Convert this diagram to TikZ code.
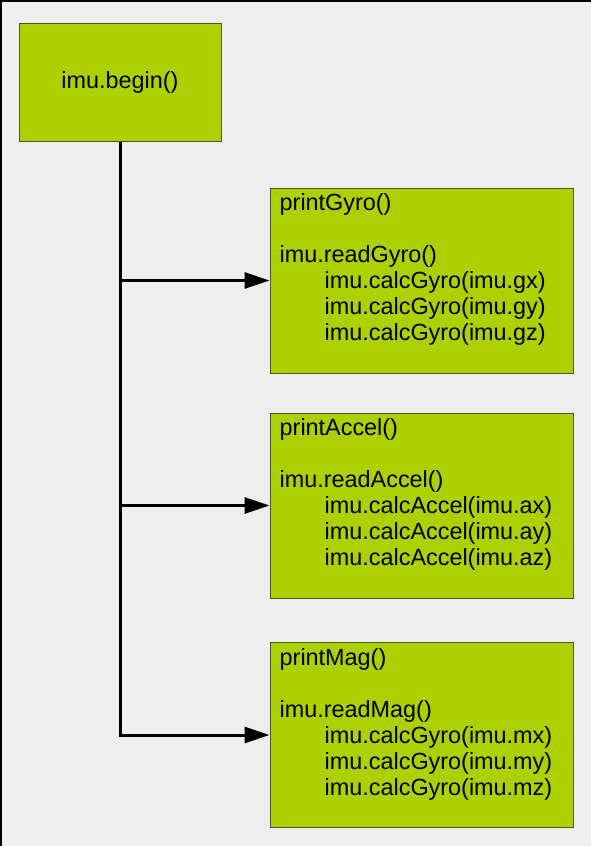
\documentclass[tikz,border=0pt]{standalone}
\usepackage{fontspec}
\setmainfont{Liberation Sans}
\usetikzlibrary{arrows.meta}
\definecolor{boxgreen}{RGB}{175,208,0}
\definecolor{boxedge}{RGB}{75,85,40}
\definecolor{bggray}{RGB}{238,238,238}
\tikzset{
  funcbox/.style={draw=boxedge,fill=boxgreen,line width=1pt,rectangle,inner sep=0pt},
  calltext/.style={inner sep=0pt,align=left,anchor=north west,font=\fontsize{23.4}{26}\selectfont},
  callarrow/.style={line width=3pt,-{Triangle[length=25pt,width=16pt]}}
}
\begin{document}
\begin{tikzpicture}[x=1pt,y=-1pt]
\fill[bggray] (0,0) rectangle (591,846);
\useasboundingbox (0,0) rectangle (591,846);
\draw[line width=1.5pt] (0.75,846)--(0.75,0.75)--(591,0.75);
\path (120,82) node[funcbox,minimum width=202pt,minimum height=118pt,
  font=\fontsize{23.4}{26}\selectfont](begin){imu.begin()};
\foreach \name/\y/\calc/\ax in {Gyro/280.5/Gyro/g,
  Accel/505.5/Accel/a, Mag/735/Gyro/m}
  \path (421.5,\y) node[funcbox,minimum width=303pt,minimum height=185pt](\name){}
  (\name.north west) ++(10,6) node[calltext](\name text){print\name()\\[26pt]
    imu.read\name()\\
    \hspace*{45pt}imu.calc\calc(imu.\ax x)\\
    \hspace*{45pt}imu.calc\calc(imu.\ax y)\\
    \hspace*{45pt}imu.calc\calc(imu.\ax z)};
\draw[callarrow] (begin.south) |- (Mag.west);
\foreach \name in {Gyro,Accel}
  \draw[callarrow] (begin.south |- \name.west) -- (\name.west);
\end{tikzpicture}
\end{document}
